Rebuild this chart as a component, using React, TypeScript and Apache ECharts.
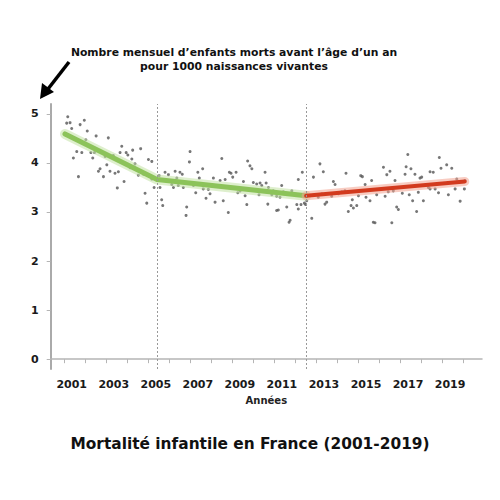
import React, { useEffect, useRef } from "react";
import * as echarts from "echarts";

// Monthly infant mortality points [year, deaths per 1000 live births]
const points2001_2005: number[][] = [
  [2001.16, 4.94], [2001.27, 4.82], [2001.11, 4.81], [2001.35, 4.7], [2001.95, 4.87], [2001.75, 4.78],
  [2002.09, 4.65], [2002.51, 4.55], [2003.09, 4.51], [2002.02, 4.47], [2001.59, 4.23], [2001.83, 4.21],
  [2001.43, 4.1], [2002.26, 4.21], [2002.43, 4.21], [2002.35, 4.1], [2002.94, 4.13], [2003.33, 4.15],
  [2003.73, 4.34], [2003.65, 4.21], [2003.94, 4.21], [2004.02, 4.16], [2004.25, 4.26], [2004.63, 4.29],
  [2004.21, 4.08], [2004.36, 3.98], [2005.0, 4.07], [2005.16, 4.03], [2002.7, 3.88], [2002.62, 3.83],
  [2003.02, 3.96], [2003.17, 3.83], [2003.41, 3.79], [2003.57, 3.82], [2002.86, 3.72], [2001.67, 3.72],
  [2003.84, 3.62], [2003.52, 3.49], [2004.13, 3.9], [2004.52, 3.75], [2004.76, 3.77], [2005.16, 3.67],
  [2005.27, 3.5], [2004.84, 3.38], [2004.92, 3.18], [2005.51, 3.74], [2005.63, 3.25], [2005.68, 3.13],
  [2005.55, 3.5],
];
const points2005_2010: number[][] = [
  [2005.79, 3.81], [2005.95, 3.76], [2006.27, 3.83], [2006.5, 3.81], [2006.61, 3.77], [2006.98, 4.23],
  [2006.95, 4.02], [2007.35, 3.81], [2007.58, 3.88], [2007.42, 3.69], [2006.35, 3.69], [2006.11, 3.56],
  [2006.19, 3.5], [2006.42, 3.54], [2006.66, 3.5], [2007.14, 3.54], [2007.25, 3.39], [2007.61, 3.47],
  [2007.85, 3.46], [2007.74, 3.28], [2007.93, 3.37], [2008.17, 3.2], [2008.09, 3.69], [2008.41, 3.64],
  [2008.49, 4.09], [2008.65, 3.66], [2008.85, 3.81], [2008.93, 3.79], [2009.01, 3.71], [2009.17, 3.81],
  [2008.56, 3.23], [2008.8, 2.99], [2009.25, 3.39], [2009.36, 3.43], [2009.52, 3.62], [2009.6, 3.33],
  [2009.72, 4.04], [2009.83, 3.94], [2009.92, 3.88], [2009.68, 3.15], [2009.99, 3.6], [2010.15, 3.57],
  [2010.31, 3.59], [2010.39, 3.54], [2010.55, 3.81], [2010.6, 3.59], [2010.26, 3.35], [2010.71, 3.5],
  [2010.68, 3.16], [2006.82, 3.1], [2006.79, 2.93],
];
const points2010_2015: number[][] = [
  [2010.94, 3.43], [2011.34, 3.54], [2011.42, 3.41], [2010.87, 3.35], [2011.1, 3.32], [2011.26, 3.3],
  [2011.5, 3.39], [2011.82, 3.43], [2011.89, 3.37], [2012.13, 3.66], [2012.32, 3.81], [2011.18, 3.04],
  [2011.1, 3.03], [2011.58, 3.1], [2011.69, 2.79], [2011.74, 2.83], [2012.06, 3.15], [2012.13, 3.06],
  [2012.26, 3.15], [2012.42, 3.18], [2012.48, 3.15], [2012.53, 3.23], [2012.77, 2.87], [2012.85, 3.71],
  [2013.16, 3.98], [2013.32, 3.82], [2013.08, 3.3], [2013.25, 3.37], [2013.4, 3.16], [2013.48, 3.2],
  [2013.72, 3.32], [2013.8, 3.62], [2013.88, 3.56], [2014.04, 3.37], [2014.2, 3.41], [2014.35, 3.43],
  [2014.4, 3.79], [2014.51, 3.01], [2014.64, 3.13], [2014.7, 3.25], [2014.75, 3.08], [2014.91, 3.13],
  [2014.99, 3.33], [2015.1, 3.74], [2015.18, 3.72], [2015.31, 3.56], [2015.35, 3.3], [2015.54, 3.23],
  [2015.62, 3.64], [2015.7, 2.79],
];
const points2015_2019: number[][] = [
  [2016.18, 3.91], [2016.34, 3.76], [2016.49, 3.83], [2016.73, 3.64], [2017.21, 3.77], [2017.26, 3.92],
  [2017.34, 4.17], [2017.49, 3.88], [2017.68, 3.77], [2017.92, 3.69], [2018.0, 3.71], [2018.4, 3.82],
  [2018.55, 3.81], [2018.84, 4.11], [2018.92, 3.89], [2019.19, 3.96], [2019.43, 3.89], [2019.67, 3.67],
  [2015.86, 3.35], [2016.26, 3.32], [2016.41, 3.41], [2016.65, 3.43], [2016.81, 3.1], [2016.89, 3.05],
  [2017.08, 3.38], [2017.41, 3.35], [2017.57, 3.23], [2017.76, 3.01], [2017.84, 3.4], [2018.08, 3.23],
  [2018.32, 3.5], [2018.4, 3.47], [2018.64, 3.47], [2018.8, 3.39], [2019.27, 3.35], [2019.59, 3.47],
  [2019.83, 3.22], [2020.03, 3.47], [2020.06, 3.64], [2015.78, 2.78], [2016.58, 2.78],
];

// Trend segments
const greenTrend: number[][] = [[2001.03, 4.59], [2005.41, 3.66], [2012.5, 3.33]];
const redTrend: number[][] = [[2012.5, 3.33], [2020.05, 3.62]];

// Break lines
const breakYears = [2005.41, 2012.5];

// Axis ticks & labels
const labelYears = [2001, 2003, 2005, 2007, 2009, 2011, 2013, 2015, 2017, 2019];
const LABEL_SHIFT = 0.35;
const tickYears = [2001, 2002, 2003, 2004, 2005, 2006, 2007, 2008, 2009, 2010, 2011, 2012, 2013, 2014, 2015, 2016, 2017, 2018, 2019, 2020];
const yTicks = [0, 1, 2, 3, 4, 5];

const TITLE = "Mortalité infantile en France (2001-2019)";
const NOTE = "Nombre mensuel d’enfants morts avant l’âge d’un an\npour 1000 naissances vivantes";
const X_NAME = "Années";

const FONT = "'DejaVu Sans', Verdana, sans-serif";

export default function App() {
  const ref = useRef<HTMLDivElement>(null);
  useEffect(() => {
    if (!ref.current) return;
    const chart = echarts.init(ref.current, null, { renderer: "svg" });
    const allPoints = [...points2001_2005, ...points2005_2010, ...points2010_2015, ...points2015_2019];
    chart.setOption({
      animation: false,
      backgroundColor: "#ffffff",
      grid: { left: 50.7, right: 18, top: 104, bottom: 131, containLabel: false },
      xAxis: {
        type: "value",
        min: 2000.35,
        max: 2020.87,
        name: X_NAME,
        nameLocation: "middle",
        nameGap: 26,
        nameTextStyle: { fontFamily: FONT, fontWeight: "bold", fontSize: 10, color: "#222" },
        axisLine: { show: true, lineStyle: { color: "#b5b5b5", width: 1.5 } },
        axisTick: { show: true, length: 4, customValues: tickYears, lineStyle: { color: "#b5b5b5", width: 1 } },
        axisLabel: {
          customValues: labelYears.map((y) => y + LABEL_SHIFT),
          formatter: (v: number) => String(Math.round(v - LABEL_SHIFT)),
          fontFamily: FONT,
          fontWeight: "bold",
          fontSize: 11,
          color: "#1a1a1a",
          margin: 10,
        },
        splitLine: { show: false },
      },
      yAxis: {
        type: "value",
        min: -0.2,
        max: 5.2,
        axisLine: { show: true, lineStyle: { color: "#aaaaaa", width: 2 } },
        axisTick: { show: true, length: 4, customValues: yTicks, lineStyle: { color: "#b5b5b5", width: 1 } },
        axisLabel: {
          customValues: yTicks,
          formatter: (v: number) => String(Math.round(v)),
          fontFamily: FONT,
          fontWeight: "bold",
          fontSize: 11,
          color: "#1a1a1a",
          margin: 12,
          padding: [4, 0, 0, 0],
        },
        splitLine: { show: false },
      },
      series: [
        {
          type: "scatter",
          data: allPoints,
          symbolSize: 3,
          itemStyle: { color: "#555555" },
          silent: true,
          markLine: {
            silent: true,
            symbol: "none",
            label: { show: false },
            lineStyle: { color: "#999999", width: 1, type: [2, 2] },
            data: breakYears.map((x) => ({ xAxis: x })),
          },
        },
        {
          type: "line",
          data: greenTrend,
          symbol: "none",
          silent: true,
          lineStyle: { color: "#c3e2a4", width: 10, opacity: 0.55, cap: "round", join: "round" },
        },
        {
          type: "line",
          data: greenTrend,
          symbol: "none",
          silent: true,
          lineStyle: { color: "#8cc35a", width: 5, cap: "round", join: "round" },
        },
        {
          type: "line",
          data: redTrend,
          symbol: "none",
          silent: true,
          lineStyle: { color: "#f2a290", width: 9, opacity: 0.55, cap: "round" },
        },
        {
          type: "line",
          data: redTrend,
          symbol: "none",
          silent: true,
          lineStyle: { color: "#d23a1e", width: 4, cap: "round" },
        },
      ],
      graphic: [
        {
          type: "text",
          x: 234,
          y: 59.5,
          style: {
            text: NOTE,
            fontFamily: FONT,
            fontWeight: "bold",
            fontSize: 10.8,
            lineHeight: 13.5,
            fill: "#111",
            align: "center",
            verticalAlign: "middle",
          },
        },
        {
          type: "line",
          shape: { x1: 69, y1: 62, x2: 48, y2: 89 },
          style: { stroke: "#000", lineWidth: 3.5 },
        },
        {
          type: "polygon",
          shape: { points: [[40, 99], [42, 83], [54, 92]] },
          style: { fill: "#000" },
        },
        {
          type: "text",
          x: 250,
          y: 444,
          style: {
            text: TITLE,
            fontFamily: FONT,
            fontWeight: "bold",
            fontSize: 15.4,
            fill: "#111",
            align: "center",
            verticalAlign: "middle",
          },
        },
      ],
    });
    return () => chart.dispose();
  }, []);
  return <div ref={ref} style={{ position: "absolute", left: 0, top: 0, width: 500, height: 500 }} />;
}
